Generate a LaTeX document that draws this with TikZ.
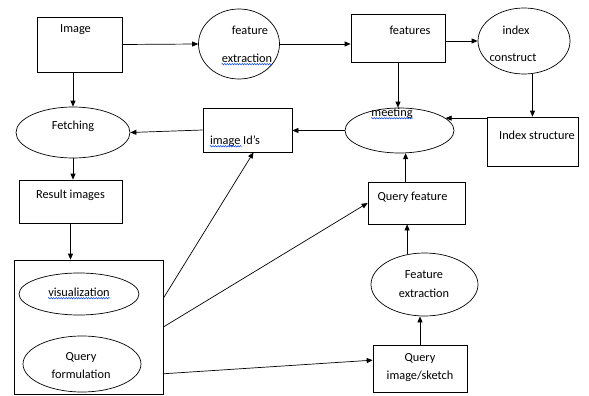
\documentclass[tikz,border=0pt]{standalone}
\usepackage{fontspec}
\setmainfont{Carlito}
\usetikzlibrary{shapes.geometric,arrows.meta,decorations.pathmorphing}
\begin{document}
\begin{tikzpicture}[x=1pt,y=-1pt,line width=0.7pt,>={Triangle[length=6pt,width=5pt]}]
        \tikzstyle{every node}=[inner sep=0pt,font=\fontsize{12.3}{14}\selectfont]
        \tikzstyle{box}=[draw,rectangle]
        \tikzstyle{oval}=[draw,ellipse]
        \tikzstyle{squiggle}=[draw=blue!75!cyan,line width=0.5pt,decorate,decoration={snake,amplitude=0.7pt,segment length=2.5pt}]
        \useasboundingbox (0,0) rectangle (589,396);
        % shapes
        \node[box,minimum width=85,minimum height=55] (image) at (79.5,44.5) {};
        \node[oval,minimum width=81,minimum height=70] (fext) at (239,44) {};
        \node[box,minimum width=94,minimum height=48] (feats) at (398,38) {};
        \node[oval,minimum width=92,minimum height=66] (idx) at (524,41) {};
        \node[box,minimum width=91,minimum height=49] (istruct) at (532.5,141.5) {};
        \node[oval,minimum width=109,minimum height=45] (meet) at (399.5,130.5) {};
        \node[box,minimum width=89,minimum height=44] (imgid) at (247.5,130) {};
        \node[oval,minimum width=114,minimum height=51] (fetch) at (73,132.5) {};
        \node[box,minimum width=103,minimum height=43] (result) at (70.5,201.5) {};
        \node[box,minimum width=149,minimum height=134] (group) at (88.5,327) {};
        \node[oval,minimum width=120,minimum height=42] (visual) at (79,294) {};
        \node[oval,minimum width=118,minimum height=56] (qform) at (82,364) {};
        \node[box,minimum width=97,minimum height=42] (qfeat) at (416.5,203) {};
        \node[oval,minimum width=107,minimum height=63] (fe2) at (424.5,284.5) {};
        \node[box,minimum width=94,minimum height=47] (qimg) at (420,368.5) {};
        % texts
        \node (t-image) at (75.5,30) {Image};
        \node (t-fext1) at (250,30) {feature};
        \node (t-fext2) at (247,58) {extraction};
        \node (t-feats) at (410,30) {features};
        \node (t-idx1) at (516,30) {index};
        \node (t-idx2) at (513,58) {construct};
        \node (t-istruct) at (537,135) {Index structure};
        \node (t-meet) at (392,113) {meeting};
        \node (t-imgid) at (235,141) {image Id’s};
        \node (t-fetch) at (73,126) {Fetching};
        \node (t-result) at (70.5,195) {Result images};
        \node (t-visual) at (79,292) {visualization};
        \node (t-qform1) at (81,357) {Query};
        \node (t-qform2) at (81,374) {formulation};
        \node (t-qfeat) at (412.5,197) {Query feature};
        \node (t-fe1) at (424,275) {Feature};
        \node (t-fe2) at (424,293) {extraction};
        \node (t-qimg1) at (420,358) {Query};
        \node (t-qimg2) at (420,376) {image/sketch};
        % spelling marks
        \draw[squiggle] ([yshift=-2pt]t-fext2.base west) -- ([yshift=-2pt]t-fext2.base east);
        \draw[squiggle] ([yshift=-2pt]t-meet.base west) -- ([yshift=-2pt]t-meet.base east);
        \draw[squiggle] ([yshift=-2pt]t-imgid.base west) -- ([xshift=32pt,yshift=-2pt]t-imgid.base west);
        \draw[squiggle] ([yshift=-2pt]t-visual.base west) -- ([yshift=-2pt]t-visual.base east);
        % connectors
        \draw[->] (image.east) -- (fext.west);
        \draw[->] (fext.east) -- (fext.east -| feats.west);
        \draw[->] (feats.east |- idx.west) -- (idx.west);
        \draw[->] (istruct.north |- idx.south) -- (istruct.north);
        \draw[->] (istruct.west |- meet.15) -- (meet.15);
        \draw[->] (feats.south) -- (feats.south |- meet.north);
        \draw[->] (meet.west) -- (meet.west -| imgid.east);
        \draw[->] (imgid.west) -- (fetch.east);
        \draw[->] (fetch.north |- image.south) -- (fetch.north);
        \draw[->] (fetch.south) -- (fetch.south |- result.north);
        \draw[->] (result.south) -- (result.south |- group.north);
        \draw[->] (group.21) -- ([xshift=6pt]imgid.south);
        \draw[->] (group.east) -- (qfeat.west);
        \draw[->] (group.-32) -- (qimg.170);
        \draw[->] (qfeat.north -| meet.-75) -- (meet.-75);
        \draw[->] (fe2.120) -- (fe2.120 |- qfeat.south);
        \draw[->] (qimg.north) -- (qimg.north |- fe2.south);
\end{tikzpicture}
\end{document}
